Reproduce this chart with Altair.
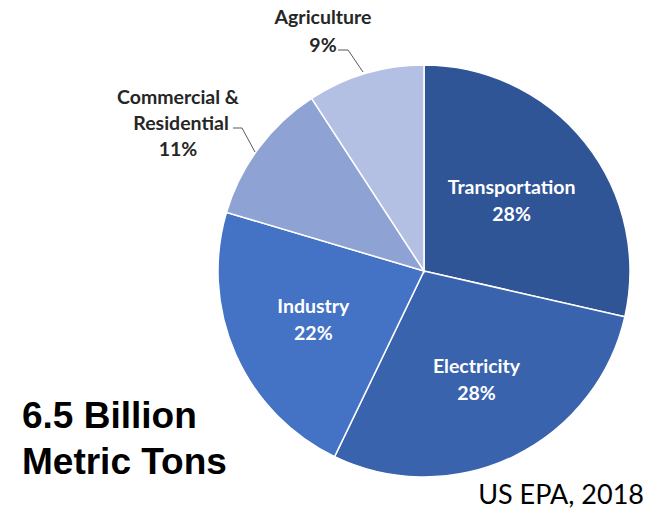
import math
import altair as alt
import pandas as pd

sectors = ["Transportation", "Electricity", "Industry", "Commercial & Residential", "Agriculture"]
shares = [28, 28, 22, 11, 9]
colors = ["#2F5597", "#3A63AD", "#4472C4", "#8EA2D4", "#B4C0E3"]
inside = [True, True, True, False, False]
label_radius = [112, 121, 121, 0, 0]

df = pd.DataFrame({
    "sector": sectors,
    "share": shares,
    "order": list(range(len(sectors))),
    "label": [f"{s}\n{v}%" for s, v in zip(sectors, shares)],
    "inside": inside,
    "lr": label_radius,
})

CX, CY, R = 424, 271, 206
TOTAL = sum(shares)

color_scale = alt.Scale(domain=sectors, range=colors)

pie = alt.Chart(df).mark_arc(stroke="white", strokeWidth=1.5).encode(
    theta=alt.Theta("share:Q", stack=True),
    order=alt.Order("order:Q"),
    x=alt.value(CX), y=alt.value(CY),
    radius=alt.value(R),
    color=alt.Color("sector:N", scale=color_scale, legend=None),
)

inner = alt.Chart(df).transform_window(
    cum="sum(share)", sort=[alt.SortField("order")],
    frame=[None, 0],
).transform_calculate(
    mid="datum.cum - datum.share / 2"
).transform_filter("datum.inside").mark_text(
    font="Lato", fontWeight="bold", fontSize=19.5, color="white",
    lineBreak="\n", lineHeight=27, align="center", baseline="middle", dy=-13,
).encode(
    theta=alt.Theta("mid:Q", stack=None,
                    scale=alt.Scale(domain=[0, TOTAL], range=[0, 2 * math.pi])),
    x=alt.value(CX), y=alt.value(CY),
    radius=alt.Radius("lr:Q", scale=None),
    text="label:N",
)

# outside labels
out_df = pd.DataFrame({
    "text": ["Agriculture", "9%", "Commercial &", "Residential", "11%"],
    "px": [323, 323, 178, 181, 178],
    "py": [18, 46, 98, 124, 150],
})
outer = alt.Chart(out_df).mark_text(
    font="Lato", fontWeight="bold", fontSize=19.5, color="#262626",
    align="center", baseline="middle",
).encode(
    x=alt.X("px:Q", scale=None), y=alt.Y("py:Q", scale=None), text="text:N"
)

lead_df = pd.DataFrame({
    "grp": ["a", "a", "a", "c", "c", "c"],
    "i": [0, 1, 2, 0, 1, 2],
    "px": [338, 348, 363, 233, 242, 255],
    "py": [50, 50, 72, 128, 128, 152],
})
leaders = alt.Chart(lead_df).mark_line(color="#595959", strokeWidth=1).encode(
    x=alt.X("px:Q", scale=None), y=alt.Y("py:Q", scale=None),
    detail="grp:N", order="i:Q",
)

notes_df = pd.DataFrame({
    "text": ["6.5 Billion", "Metric Tons"],
    "px": [22, 22],
    "py": [417, 463],
})
notes = alt.Chart(notes_df).mark_text(
    font="Liberation Sans", fontWeight="bold", fontSize=37, color="black",
    align="left", baseline="middle",
).encode(x=alt.X("px:Q", scale=None), y=alt.Y("py:Q", scale=None), text="text:N")

src = alt.Chart(pd.DataFrame({"text": ["US EPA, 2018"]})).mark_text(
    font="Lato", fontSize=27, color="black", align="right", baseline="middle",
).encode(x=alt.value(644), y=alt.value(496), text="text:N")

chart = alt.layer(pie, inner, leaders, outer, notes, src).resolve_scale(
    theta="independent"
).properties(
    width=652, height=510,
    autosize=alt.AutoSizeParams(type="none"),
    padding=0,
).configure_view(stroke=None)

chart.save("out.html", embed_options={"renderer": "svg", "actions": False})
